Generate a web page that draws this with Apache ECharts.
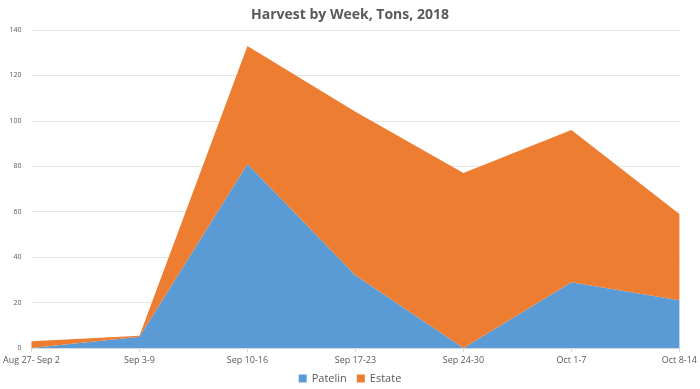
<!DOCTYPE html>
<html><head><meta charset="utf-8">
<script src="https://cdn.jsdelivr.net/npm/echarts@6/dist/echarts.min.js"></script>
<style>html,body{margin:0;padding:0;background:#fff}#c{width:700px;height:389px}</style>
</head><body><div id="c"></div>
<script>
const categories = ["Aug 27- Sep 2","Sep 3-9","Sep 10-16","Sep 17-23","Sep 24-30","Oct 1-7","Oct 8-14"];
const patelin = [0, 5, 81, 32, 0, 29, 21];
const estate = [3, 0.4, 52, 72, 77, 67, 38];
const yTicks = {min: 0, max: 140, interval: 20};
const font = "'Open Sans', 'Noto Sans', sans-serif";
const chart = echarts.init(document.getElementById('c'), null, {renderer: 'canvas'});
chart.setOption({
  animation: false,
  title: {text: 'Harvest by Week, Tons, 2018', left: 'center', top: 3,
    textStyle: {fontFamily: font, fontSize: 14, fontWeight: 'bold', color: '#595959'}},
  grid: {left: 30, right: 19, top: 30, bottom: 41},
  legend: {bottom: 0, left: 'center', itemWidth: 8, itemHeight: 8, itemGap: 10, icon: 'rect',
    textStyle: {fontFamily: font, fontSize: 11, color: '#595959'},
    data: ['Patelin','Estate']},
  xAxis: {type: 'category', data: categories, boundaryGap: false,
    axisLine: {lineStyle: {color: '#d9d9d9'}},
    axisTick: {show: true, alignWithLabel: true, length: 4, lineStyle: {color: '#d9d9d9'}},
    axisLabel: {fontFamily: font, fontSize: 9, color: '#595959', interval: 0, margin: 8}},
  yAxis: {type: 'value', min: yTicks.min, max: yTicks.max, interval: yTicks.interval,
    axisLine: {show: false}, axisTick: {show: false},
    splitLine: {lineStyle: {color: '#e6e6e6'}},
    axisLabel: {fontFamily: font, fontSize: 7, color: '#595959', margin: 10}},
  series: [
    {name: 'Patelin', type: 'line', stack: 'total', data: patelin, symbol: 'none',
      lineStyle: {width: 0}, areaStyle: {color: '#5B9BD5', opacity: 1}, itemStyle: {color: '#5B9BD5'}},
    {name: 'Estate', type: 'line', stack: 'total', data: estate, symbol: 'none',
      lineStyle: {width: 0}, areaStyle: {color: '#ED7D31', opacity: 1}, itemStyle: {color: '#ED7D31'}}
  ]
});
</script></body></html>
